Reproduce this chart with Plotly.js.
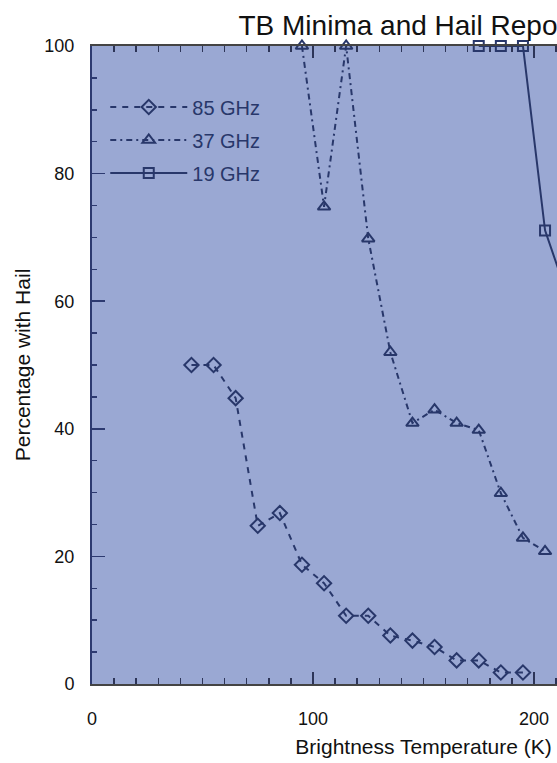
<!DOCTYPE html>
<html>
<head>
<meta charset="utf-8">
<script src="https://cdn.plot.ly/plotly-3.0.1.min.js"></script>
<style>
html, body { margin: 0; padding: 0; overflow: hidden; background: #ffffff; }
#chart { width: 800px; height: 763px; }
</style>
</head>
<body>
<div id="chart"></div>
<script>
// Brightness temperature bins (K)
const tb85 = [45, 55, 65, 75, 85, 95, 105, 115, 125, 135, 145, 155, 165, 175, 185, 195];
const hail85 = [50, 50, 44.8, 24.8, 26.8, 18.7, 15.8, 10.7, 10.7, 7.6, 6.8, 5.8, 3.7, 3.7, 1.8, 1.8];

const tb37 = [95, 105, 115, 125, 135, 145, 155, 165, 175, 185, 195, 205];
const hail37 = [100, 74.8, 100, 69.8, 52, 40.9, 43, 40.9, 39.8, 29.9, 22.9, 20.8];

const tb19 = [175, 185, 195, 205, 215];
const hail19 = [100, 100, 100, 71.1, 61];

const seriesNames = ["85 GHz", "37 GHz", "19 GHz"];
const chartTitle = "TB Minima and Hail Reports";
const xTitle = "Brightness Temperature (K)";
const yTitle = "Percentage with Hail";

const navy = "#28376a";
const fontFam = "Liberation Sans, Arial, Helvetica, sans-serif";

const traces = [
  {
    x: tb85, y: hail85, name: seriesNames[0], type: "scatter", mode: "lines+markers",
    legendgroup: "a",
    line: { color: navy, width: 2, dash: "6px,6px" },
    marker: { symbol: "diamond-open", size: 11, color: navy, line: { color: navy, width: 2 } },
    cliponaxis: false
  },
  {
    x: tb37, y: hail37, name: seriesNames[1], type: "scatter", mode: "lines+markers",
    legendgroup: "b",
    line: { color: navy, width: 2, dash: "6px,4px,2px,4px" },
    marker: { symbol: "triangle-up-open", size: 11, color: navy, line: { color: navy, width: 2 } },
    cliponaxis: false
  },
  {
    x: tb19, y: hail19, name: seriesNames[2], type: "scatter", mode: "lines+markers",
    legendgroup: "c",
    line: { color: navy, width: 2 },
    marker: { symbol: "square-open", size: 10, color: navy, line: { color: navy, width: 2 } },
    cliponaxis: false
  }
];

const layout = {
  width: 800,
  height: 763,
  margin: { l: 92, r: 45, t: 46, b: 79 },
  paper_bgcolor: "#ffffff",
  plot_bgcolor: "#9aa8d3",
  font: { family: fontFam, color: "#111111", size: 18 },
  title: {
    text: chartTitle,
    font: { family: fontFam, size: 28, color: "#111111" },
    x: 0.485, xref: "paper", xanchor: "center",
    y: 0.967, yref: "container", yanchor: "middle"
  },
  xaxis: {
    range: [0, 300],
    dtick: 100, tick0: 0,
    ticks: "inside", ticklen: 12, tickwidth: 1.5, tickcolor: "#2d3558",
    minor: { dtick: 10, ticks: "inside", ticklen: 6, tickwidth: 1.5, tickcolor: "#2d3558" },
    showline: true, linecolor: "#444444", linewidth: 2, mirror: "ticks",
    showgrid: false, zeroline: false,
    ticklabelstandoff: 17,
    tickfont: { family: fontFam, size: 18, color: "#111111" },
    title: { text: xTitle, font: { family: fontFam, size: 21, color: "#111111" }, standoff: 12 }
  },
  yaxis: {
    range: [0, 100],
    dtick: 20, tick0: 0,
    ticks: "inside", ticklen: 13, tickwidth: 1.5, tickcolor: "#2d3a70",
    minor: { dtick: 5, ticks: "inside", ticklen: 5, tickwidth: 1.5, tickcolor: "#2d3a70" },
    showline: true, linecolor: "#2d3a70", linewidth: 2, mirror: "ticks",
    showgrid: false, zeroline: false,
    ticklabelstandoff: 12,
    tickfont: { family: fontFam, size: 18, color: "#111111" },
    title: { text: yTitle, font: { family: fontFam, size: 21, color: "#111111" }, standoff: 8 }
  },
  showlegend: true,
  legend: {
    x: 0.02, xanchor: "left",
    y: 0.935, yanchor: "top",
    bgcolor: "rgba(0,0,0,0)", borderwidth: 0,
    traceorder: "grouped", tracegroupgap: 4,
    itemwidth: 77,
    font: { family: fontFam, size: 20, color: navy }
  }
};

Plotly.newPlot("chart", traces, layout, { displayModeBar: false, staticPlot: true });
</script>
</body>
</html>
